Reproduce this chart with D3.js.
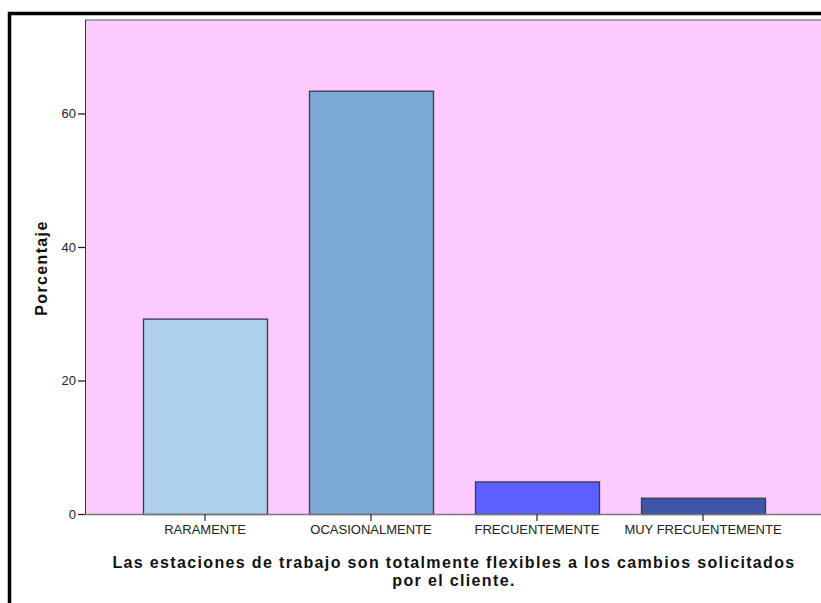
<!DOCTYPE html>
<html><head><meta charset="utf-8">
<script src="https://cdn.jsdelivr.net/npm/d3@7"></script>
<style>body{margin:0;background:#fff}svg{display:block}</style>
</head><body>
<script>
const categories = ["RARAMENTE","OCASIONALMENTE","FRECUENTEMENTE","MUY FRECUENTEMENTE"];
const values = [29.27, 63.41, 4.88, 2.44];
const colors = ["#aed0ec","#7aaad5","#5b60fe","#3e56a8"];
const yTicks = [0,20,40,60];
const xTitleLines = ["Las estaciones de trabajo son totalmente flexibles a los cambios solicitados","por el cliente."];
const yTitle = "Porcentaje";

const W=821,H=603;
const svg=d3.select("body").append("svg").attr("width",W).attr("height",H);
// outer frame
svg.append("rect").attr("x",9.5).attr("y",13.5).attr("width",W).attr("height",H).attr("fill","none").attr("stroke","#000").attr("stroke-width",3.5);

const plot={l:85,t:20,r:821,b:514};
const y=d3.scaleLinear().domain([0,74]).range([plot.b,plot.t]);
const x=d3.scaleBand().domain(categories).range([122,786]).paddingInner(0.253).paddingOuter(0.1265);

svg.append("rect").attr("x",plot.l).attr("y",plot.t).attr("width",plot.r-plot.l).attr("height",plot.b-plot.t).attr("fill","#fdcafd");
svg.append("line").attr("x1",plot.l).attr("x2",plot.r).attr("y1",plot.t).attr("y2",plot.t).attr("stroke","#888").attr("stroke-width",1.5);

// bars
svg.selectAll("rect.bar").data(values).enter().append("rect").attr("class","bar")
 .attr("x",(d,i)=>x(categories[i])+0.5).attr("width",x.bandwidth())
 .attr("y",d=>y(d)+0.5).attr("height",d=>plot.b-y(d))
 .attr("fill",(d,i)=>colors[i]).attr("stroke","#3a3a4a").attr("stroke-width",1.3);

// y axis
const ya=svg.append("g").attr("transform",`translate(${plot.l},0)`).call(d3.axisLeft(y).tickValues(yTicks).tickSize(7).tickPadding(2).tickFormat(d3.format("d")));
ya.select(".domain").attr("stroke","#333").attr("d",`M0.5,${plot.t}V${plot.b}`);
ya.selectAll(".tick line").attr("stroke","#222").attr("stroke-width",1.3);
ya.selectAll("text").attr("font-family","Arial, 'Liberation Sans', sans-serif").attr("font-size",13).attr("fill","#222");

// x axis
const xa=svg.append("g").attr("transform",`translate(0,${plot.b})`).call(d3.axisBottom(x).tickSize(7).tickPadding(4));
xa.select(".domain").attr("stroke","#777").attr("stroke-width",1.5).attr("d",`M${plot.l},0.5H${plot.r}`);
xa.selectAll(".tick line").attr("stroke","#333").attr("stroke-width",1.3);
xa.selectAll("text").attr("font-family","Arial, 'Liberation Sans', sans-serif").attr("font-size",13).attr("fill","#222");

// titles
const tx=(plot.l+plot.r)/2+1;
svg.selectAll("text.xt").data(xTitleLines).enter().append("text").attr("class","xt")
 .attr("x",tx).attr("y",(d,i)=>568+i*18).attr("text-anchor","middle")
 .attr("font-family","Arial, 'Liberation Sans', sans-serif").attr("font-weight","bold").attr("font-size",16).attr("letter-spacing",1.35).attr("fill","#111").text(d=>d);
svg.append("text").attr("transform","translate(47,268) rotate(-90)").attr("text-anchor","middle")
 .attr("font-family","Arial, 'Liberation Sans', sans-serif").attr("font-weight","bold").attr("font-size",16).attr("letter-spacing",1.35).attr("fill","#111").text(yTitle);
</script>
</body></html>
